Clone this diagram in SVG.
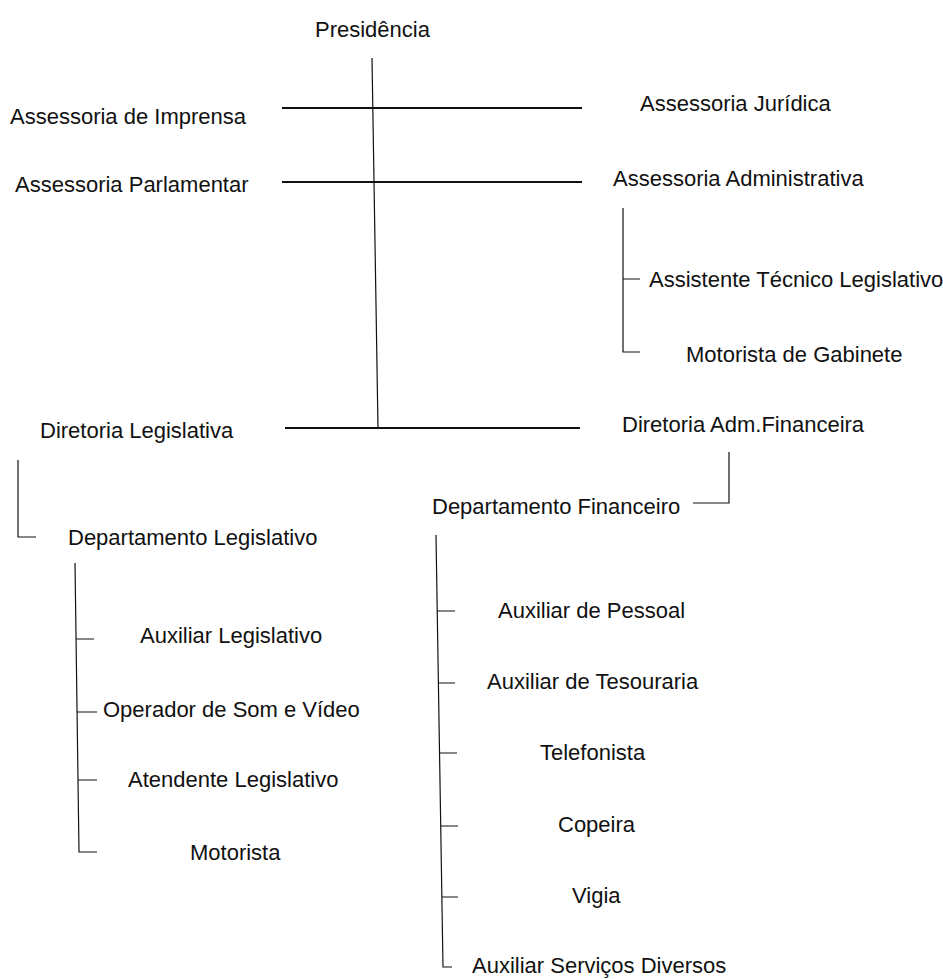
<svg xmlns="http://www.w3.org/2000/svg" width="943" height="979" viewBox="0 0 943 979">
<style>
text { font-family: "Liberation Sans", Arial, sans-serif; font-size: 22px; fill: #111; }
.main { stroke: #111; stroke-width: 1.8; fill: none; }
.thin { stroke: #111; stroke-width: 1.2; fill: none; }
</style>
<rect width="943" height="979" fill="#fff"/>
<g id="connectors">
  <line class="thin" x1="372" y1="58" x2="378" y2="428"/>
  <line class="main" x1="282" y1="108" x2="582" y2="108"/>
  <line class="main" x1="282" y1="182" x2="582" y2="182"/>
  <line class="main" x1="285" y1="428" x2="580" y2="428"/>
  <path class="thin" d="M623,208 V352 H640 M623,279 H640"/>
  <path class="thin" d="M729,452 V503 H693"/>
  <path class="thin" d="M18,460 V537 H36"/>
  <path class="thin" d="M75,563 L79,852 H97 M76,639 H94 M77,712 H97 M78,780 H97"/>
  <path class="thin" d="M436,535 L443,967 H452 M437,611 H455 M439,683 H455 M440,753 H457 M441,826 H458 M442,897 H458"/>
</g>
<g id="presidencia"><text x="315" y="37">Presidência</text></g>
<g id="assessoria-imprensa"><text x="10" y="124">Assessoria de Imprensa</text></g>
<g id="assessoria-juridica"><text x="640" y="111">Assessoria Jurídica</text></g>
<g id="assessoria-parlamentar"><text x="15" y="192">Assessoria Parlamentar</text></g>
<g id="assessoria-administrativa"><text x="613" y="186">Assessoria Administrativa</text></g>
<g id="assistente-tecnico"><text x="649" y="287">Assistente Técnico Legislativo</text></g>
<g id="motorista-gabinete"><text x="686" y="362">Motorista de Gabinete</text></g>
<g id="diretoria-legislativa"><text x="40" y="438">Diretoria Legislativa</text></g>
<g id="diretoria-adm"><text x="622" y="432">Diretoria Adm.Financeira</text></g>
<g id="departamento-financeiro"><text x="432" y="514">Departamento Financeiro</text></g>
<g id="departamento-legislativo"><text x="68" y="545">Departamento Legislativo</text></g>
<g id="auxiliar-legislativo"><text x="140" y="643">Auxiliar Legislativo</text></g>
<g id="operador-som"><text x="103" y="717">Operador de Som e Vídeo</text></g>
<g id="atendente-legislativo"><text x="128" y="787">Atendente Legislativo</text></g>
<g id="motorista"><text x="190" y="860">Motorista</text></g>
<g id="auxiliar-pessoal"><text x="498" y="618">Auxiliar de Pessoal</text></g>
<g id="auxiliar-tesouraria"><text x="487" y="689">Auxiliar de Tesouraria</text></g>
<g id="telefonista"><text x="540" y="760">Telefonista</text></g>
<g id="copeira"><text x="558" y="832">Copeira</text></g>
<g id="vigia"><text x="572" y="903">Vigia</text></g>
<g id="auxiliar-servicos"><text x="472" y="973">Auxiliar Serviços Diversos</text></g>
</svg>
